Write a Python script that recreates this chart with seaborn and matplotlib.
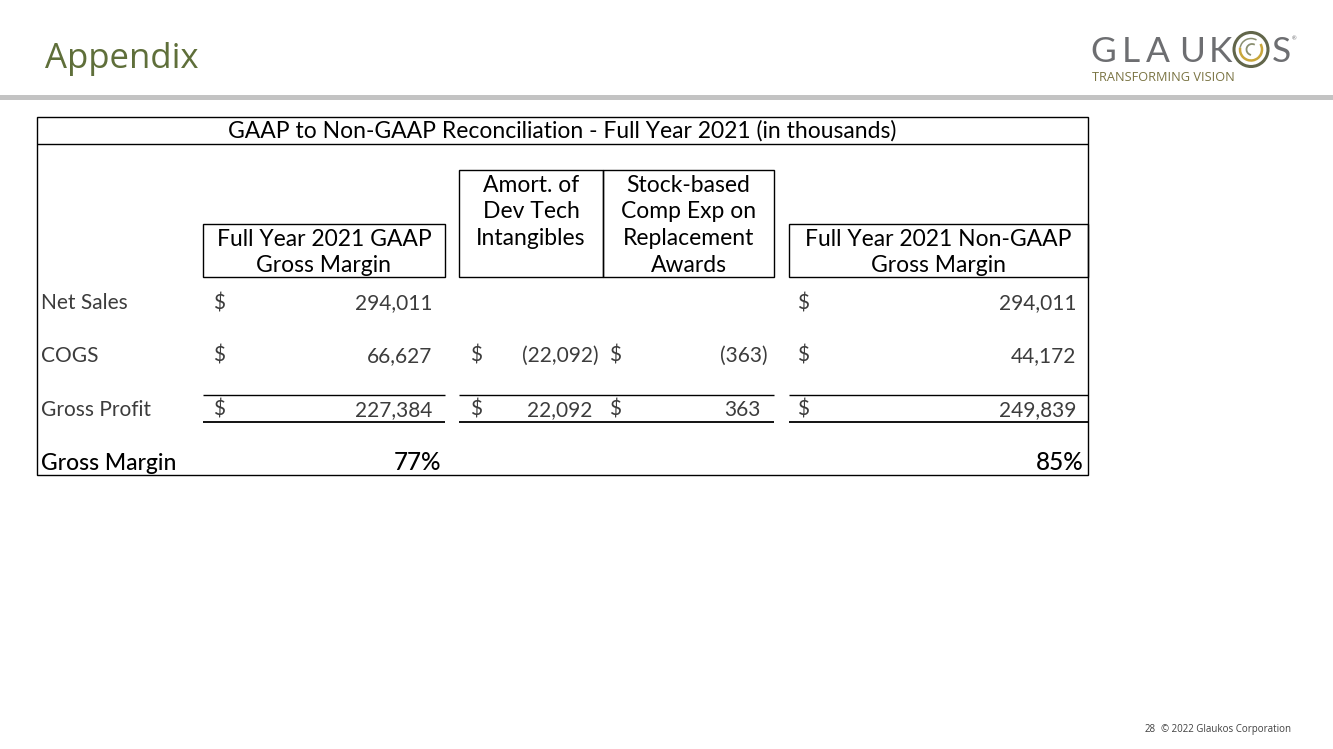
import matplotlib
matplotlib.use("Agg")
import matplotlib.pyplot as plt
import seaborn as sns
from matplotlib.patches import Rectangle, Arc

# ---------------- data ----------------
slide_title = "Appendix"
table_title = "GAAP to Non-GAAP Reconciliation - Full Year 2021 (in thousands)"
col_headers = [
    ["Full Year 2021 GAAP", "Gross Margin"],
    ["Amort. of", "Dev Tech", "Intangibles"],
    ["Stock-based", "Comp Exp on", "Replacement", "Awards"],
    ["Full Year 2021 Non-GAAP", "Gross Margin"],
]
row_labels = ["Net Sales", "COGS", "Gross Profit"]
margin_label = "Gross Margin"
gaap = [294011, 66627, 227384]
amort = [None, -22092, 22092]
stock_comp = [None, -363, 363]
non_gaap = [294011, 44172, 249839]
gaap_margin = 77
non_gaap_margin = 85
logo_letters = ["G", "L", "A", "U", "K", "S"]
logo_tag = "TRANSFORMING VISION"
footer_page = "28"
footer_text = "© 2022 Glaukos Corporation"

# ---------------- style ----------------
sns.set_theme(style="white")
plt.rcParams['font.family'] = ['Lato', 'DejaVu Sans']

W, H = 1333, 749
fig = plt.figure(figsize=(W / 100, H / 100), dpi=100)
ax = fig.add_axes([0, 0, 1, 1])
ax.set_xlim(0, W)
ax.set_ylim(H, 0)
ax.axis("off")

TXT = "#3c3c3c"
FS = 15      # body cells
FSH = 16.5   # title / headers

def line(x0, x1, y0, y1, lw=1.0, c="black"):
    ax.plot([x0, x1], [y0, y1], color=c, lw=lw, solid_capstyle="butt")

# slide title and bar
ax.text(45, 68, slide_title, fontsize=25, color="#5f6f3a", family=["Open Sans", "DejaVu Sans"],
        ha="left", va="baseline")
ax.add_patch(Rectangle((0, 95), W, 5, color="#c3c3c3", lw=0))

# logo
LOGO = "#6d6e71"
for ch, x in zip(logo_letters, [1103.5, 1131, 1157.5, 1192.5, 1220, 1281.5]):
    ax.text(x, 62, ch, fontsize=25.5, color=LOGO, ha="center", va="baseline",
            family=["Lato", "DejaVu Sans"])
cx, cy = 1251, 49.5
ax.add_patch(Arc((cx, cy), 34, 34, theta1=0, theta2=360, color="#62664a", lw=2.2))
ax.add_patch(Arc((cx, cy), 22, 22, theta1=-30, theta2=190, color="#c9a63a", lw=1.8))
ax.add_patch(Arc((cx, cy), 22, 22, theta1=190, theta2=300, color="#8a8f70", lw=1.1))
ax.add_patch(Arc((cx + 1, cy), 11, 11, theta1=100, theta2=300, color="#8a8f70", lw=1.3))
ax.text(1292, 40, "®", fontsize=4, color=LOGO, ha="left", va="baseline")
ax.text(1092, 81, logo_tag, fontsize=9.2, color="#7a7443", ha="left", va="baseline",
        family=["Open Sans", "DejaVu Sans"])

# table frame
L, R, T, B = 37, 1088, 117, 475
ax.add_patch(Rectangle((L, T), R - L, B - T, fill=False, ec="black", lw=1.0))
line(L, R, 144, 144)
ax.text((L + R) / 2, 138, table_title, fontsize=FSH, color="black", ha="center", va="baseline")

# column layout
cols = [
    dict(x0=203, x1=445, top=224, first=246, dollar=213, right=432, pos_off=0),
    dict(x0=459, x1=603, top=170, first=192, dollar=470, right=599, pos_off=7),
    dict(x0=603, x1=774, top=170, first=192, dollar=609, right=768, pos_off=7),
    dict(x0=789, x1=1088, top=224, first=246, dollar=797, right=1076, pos_off=0),
]
head_bottom = 277
line_h = 26.5
for c, hdr in zip(cols, col_headers):
    ax.add_patch(Rectangle((c["x0"], c["top"]), c["x1"] - c["x0"], head_bottom - c["top"],
                           fill=False, ec="black", lw=1.0))
    for i, t in enumerate(hdr):
        ax.text((c["x0"] + c["x1"]) / 2, c["first"] + i * line_h, t, fontsize=FSH,
                color="black", ha="center", va="baseline")

row_base = [309, 362, 416]
for lab, yb in zip(row_labels, row_base):
    ax.text(41, yb, lab, fontsize=FS, color=TXT, ha="left", va="baseline")

def fmt(v):
    return f"({abs(v):,})" if v < 0 else f"{v:,}"

series = [gaap, amort, stock_comp, non_gaap]
for c, vals in zip(cols, series):
    for v, yb in zip(vals, row_base):
        if v is None:
            continue
        ax.text(c["dollar"], yb, "$", fontsize=FS, color=TXT, ha="left", va="baseline")
        xr = c["right"] - (c["pos_off"] if v >= 0 else 0)
        ax.text(xr, yb, fmt(v), fontsize=FS, color=TXT, ha="right", va="baseline")

# subtotal rules around Gross Profit
for x0, x1 in [(203, 445), (459, 774), (789, 1088)]:
    line(x0, x1, 395, 395, lw=1.0)
    line(x0, x1, 422, 422, lw=1.3)

# gross margin row
ax.text(41, 470, margin_label, fontsize=FSH, color="black", ha="left", va="baseline",
        fontweight="medium")
ax.text(441, 470, f"{gaap_margin}%", fontsize=17.5, color="black", ha="right", va="baseline",
        fontweight="medium")
ax.text(1084, 470, f"{non_gaap_margin}%", fontsize=17.5, color="black", ha="right", va="baseline",
        fontweight="medium")

# footer
ax.text(1145, 732, footer_page, fontsize=7, color="#404040", ha="left", va="baseline",
        family=["Open Sans", "DejaVu Sans"])
ax.text(1161, 732, footer_text, fontsize=7, color="#404040", ha="left", va="baseline",
        family=["Open Sans", "DejaVu Sans"])

fig.savefig("out.png", dpi=100, facecolor="white")
